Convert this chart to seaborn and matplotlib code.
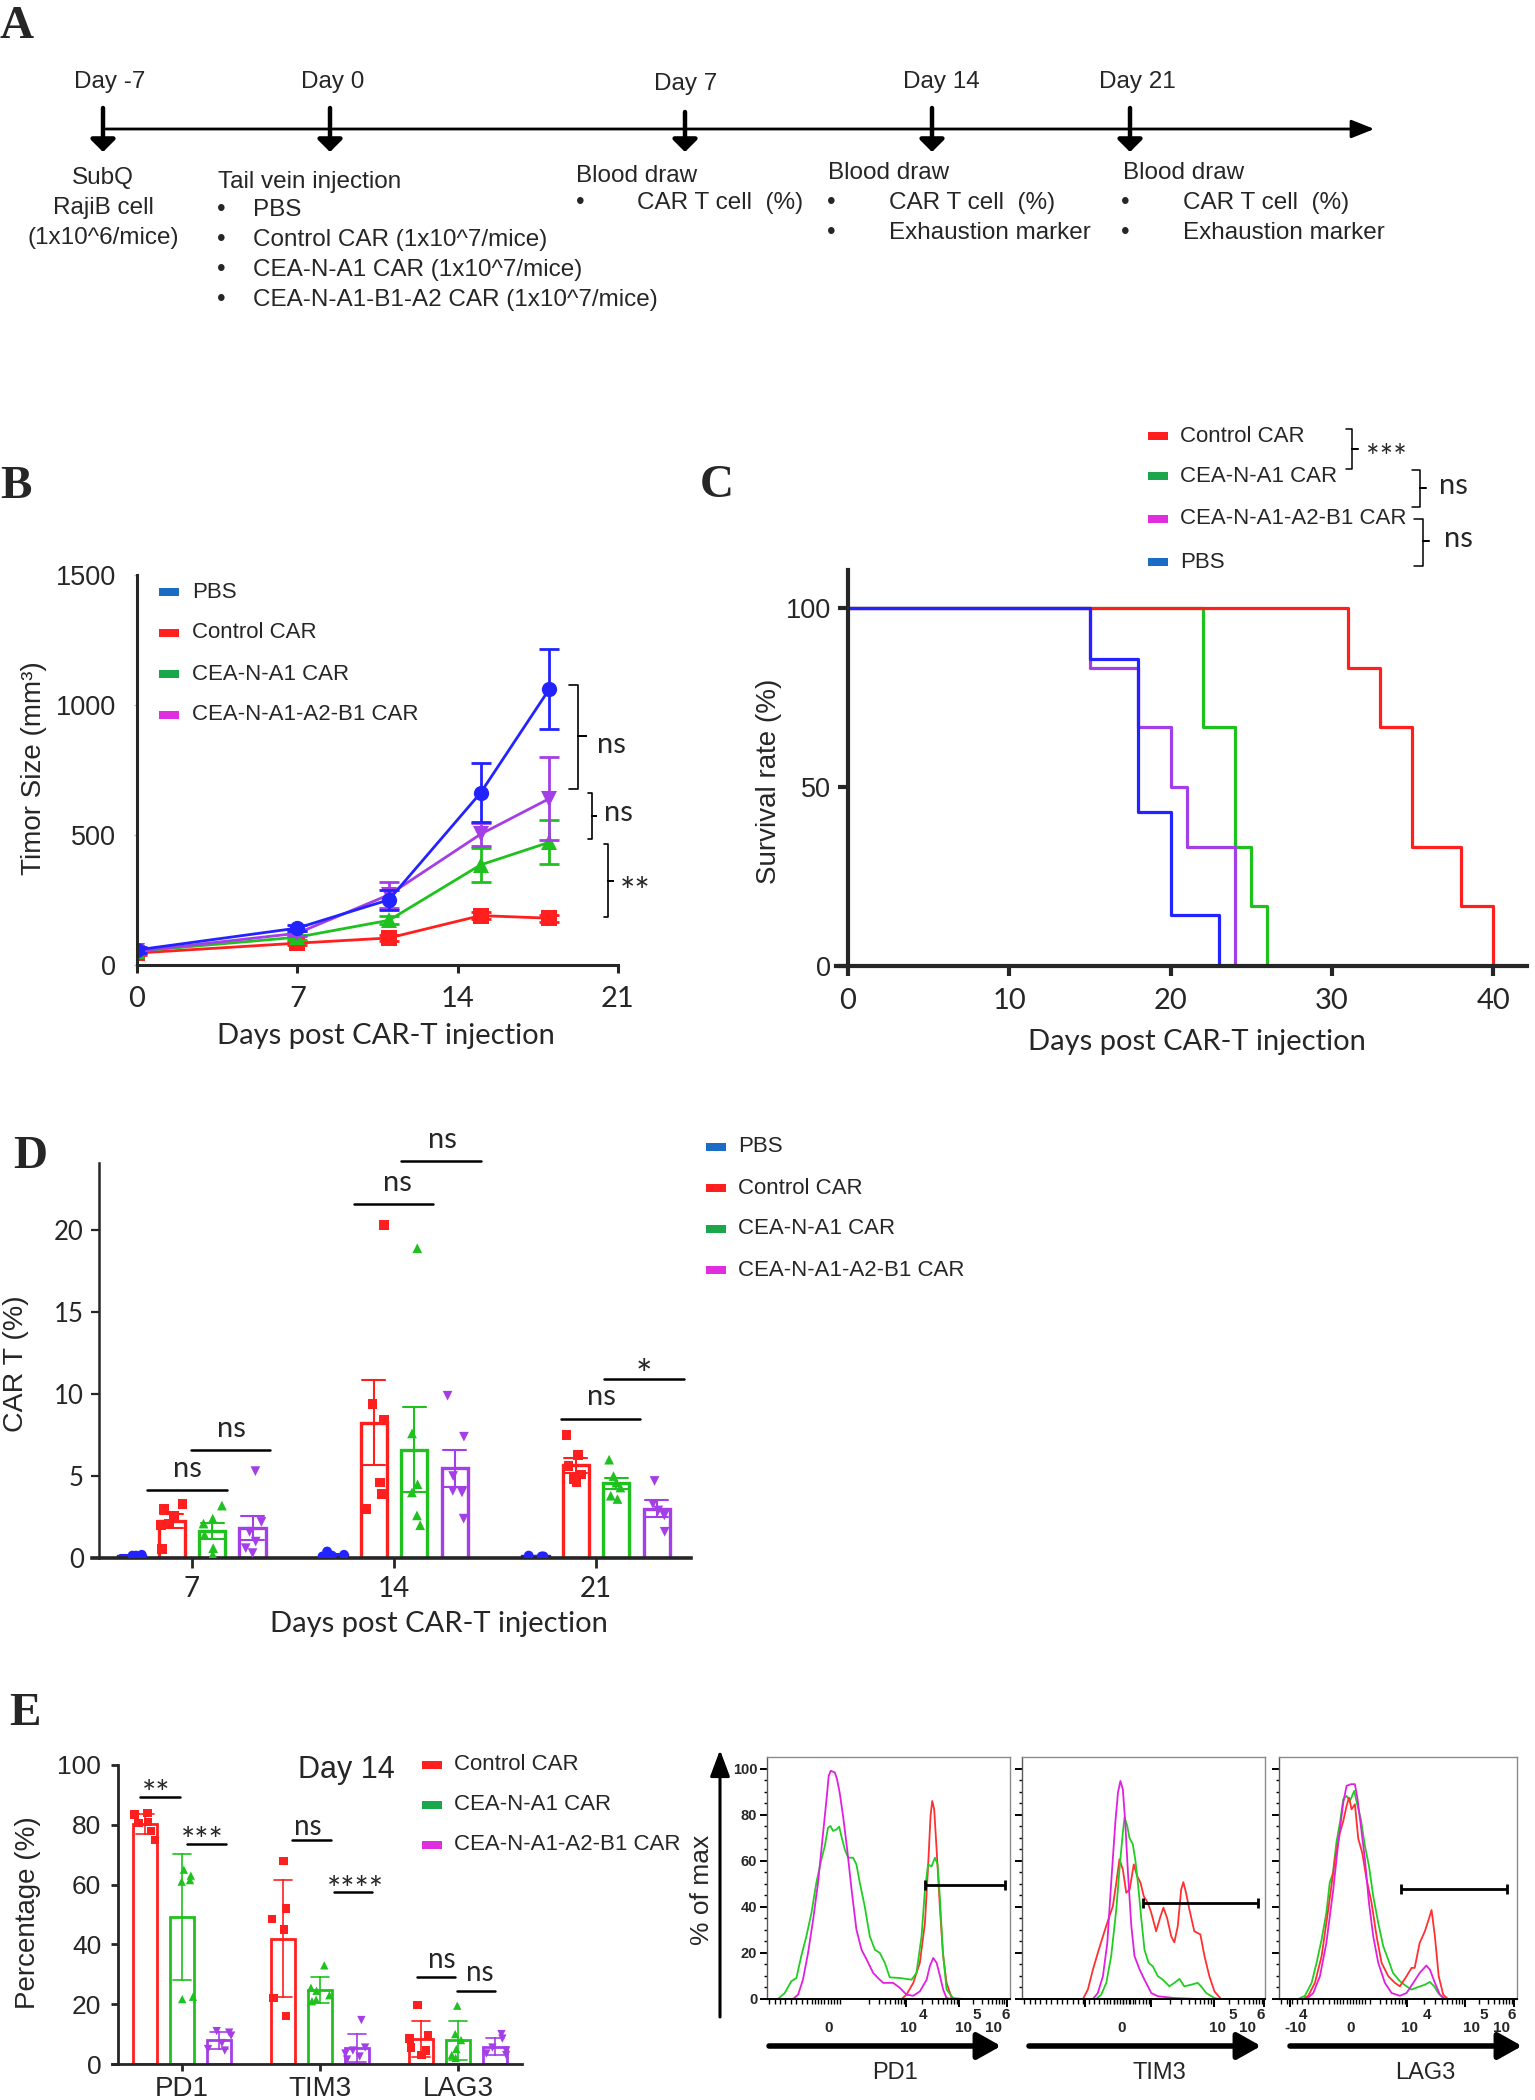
import numpy as np
import pandas as pd
import matplotlib
matplotlib.use("Agg")
import matplotlib.pyplot as plt
from matplotlib.patches import Rectangle
import seaborn as sns

# ---------------- data ----------------
GROUPS = ['PBS', 'Control CAR', 'CEA-N-A1 CAR', 'CEA-N-A1-A2-B1 CAR']

# A: timeline text
A_DAYS = ['Day -7', 'Day 0', 'Day 7', 'Day 14', 'Day 21']
A_SUBQ = ['SubQ', 'RajiB cell', '(1x10^6/mice)']
A_INJ = ['PBS', 'Control CAR (1x10^7/mice)', 'CEA-N-A1 CAR (1x10^7/mice)',
         'CEA-N-A1-B1-A2 CAR (1x10^7/mice)']

# B: tumour size, mean +- sem
B_DAYS = [0, 7, 11, 15, 18]
B_PBS = [58, 142, 251, 662, 1061]
B_PBS_SEM = [10, 12, 38, 113, 155]
B_CTRL = [46, 84, 104, 190, 180]
B_CTRL_SEM = [6, 8, 10, 14, 14]
B_A1 = [53, 107, 172, 385, 472]
B_A1_SEM = [6, 9, 15, 65, 85]
B_A2B1 = [53, 122, 270, 503, 640]
B_A2B1_SEM = [6, 10, 50, 45, 160]

# C: survival, step times and % alive
C_CTRL_T = [0, 31, 33, 35, 38, 40]
C_CTRL_S = [100, 83.3, 66.7, 33.3, 16.7, 0]
C_A1_T = [0, 22, 24, 25, 26]
C_A1_S = [100, 66.7, 33.3, 16.7, 0]
C_A2B1_T = [0, 15, 18, 20, 21, 24]
C_A2B1_S = [100, 83.3, 66.7, 50, 33.3, 0]
C_PBS_T = [0, 15, 18, 20, 23]
C_PBS_S = [100, 85.7, 42.9, 14.3, 0]

# D: CAR T (%) per mouse
D_DAYS = ['7', '14', '21']
D_PBS = [[0.2, 0.15, 0.1, 0.15, 0.1], [0.4, 0.2, 0.1, 0.1, 0.15], [0.1, 0.15, 0.1]]
D_CTRL = [[3.3, 3.0, 2.6, 2.0, 2.1, 0.55], [20.3, 9.4, 8.4, 4.6, 3.9, 3.0],
          [7.5, 6.3, 5.6, 5.1, 4.8, 4.6]]
D_A1 = [[3.2, 2.4, 2.1, 1.4, 0.6, 0.2], [18.9, 7.6, 4.5, 4.0, 2.6, 2.0],
        [6.0, 5.0, 4.6, 4.3, 3.8, 3.6]]
D_A2B1 = [[5.3, 2.2, 1.6, 1.0, 0.6, 0.3], [9.9, 7.4, 5.0, 4.0, 4.1, 2.4],
          [4.7, 3.3, 2.9, 2.6, 1.6]]

# E: exhaustion markers at day 14 (%)
E_MARKERS = ['PD1', 'TIM3', 'LAG3']
E_CTRL = [[84, 83.5, 81, 80.5, 78, 75], [68, 52, 48.5, 45, 22, 16],
          [19.8, 9.5, 8.5, 5.5, 4.5, 3]]
E_A1 = [[65, 63, 61, 61.5, 21.7, 22.5], [33, 25.5, 24.5, 23, 21.5, 21],
        [19.5, 10, 8, 5, 3, 2]]
E_A2B1 = [[11, 10.5, 9.5, 7, 5, 4.5], [14.7, 5.5, 4.5, 3.5, 2.5, 1.5],
          [10, 8.5, 5.5, 4.5, 3.5, 3]]

# E right: flow histograms (% of max vs display channel 0-100)
PD1_MAG_X = [10.7, 12.8, 14.8, 16.9, 19.0, 21.0, 23.1, 24.5, 25.4, 26.2, 27.9, 28.8, 29.9, 31.3,
             33.0, 34.8, 36.8, 38.9, 41.0, 43.7, 45.7, 47.8, 51.9, 54.7, 57.4, 60.2, 62.9, 65.7,
             67.0, 68.4, 69.8, 71.2, 72.5, 73.9, 76.0]
PD1_MAG_Y = [0, 1.9, 8.4, 20, 34.5, 50.4, 72.2, 86.7, 96.8, 99, 98.3, 95.4, 89.6, 79.4,
             64.9, 47.5, 30.1, 21.4, 17.1, 11.3, 9.1, 7.0, 7.0, 4.8, 1.9, 1.4, 3.3, 8.4,
             14.2, 17.8, 15.7, 9.9, 4.1, 0.4, 0]
PD1_GRN_X = [4.5, 7.3, 10.0, 12.1, 14.1, 16.2, 18.3, 20.3, 22.4, 23.8, 25.1, 26.1, 27.2, 28.6,
             29.7, 30.6, 32.0, 33.4, 35.4, 36.8, 38.2, 40.2, 42.3, 44.4, 46.4, 48.5, 50.5, 54.7,
             59.5, 61.5, 63.6, 65.0, 66.3, 67.7, 69.1, 70.2, 71.2, 72.3, 73.9, 76.6, 80.8]
PD1_GRN_Y = [0, 2.6, 7.7, 9.1, 18.6, 27.2, 37.4, 50.4, 60.6, 66.4, 74.3, 75.1, 72.9, 73.6,
             74.8, 70.7, 64.9, 61.3, 61.3, 58.4, 50.4, 40.3, 27.2, 21.4, 20, 15.7, 9.4, 9.1,
             8.4, 11.3, 27.2, 47.5, 58.4, 57.5, 61.3, 58.4, 43.2, 21.4, 4.1, 0.4, 0]
PD1_RED_X = [55.4, 57.4, 60.2, 62.9, 65.0, 66.3, 67.3, 68.0, 68.8, 69.8, 71.2, 72.5, 73.9, 76.0, 78.0]
PD1_RED_Y = [0, 1.9, 7, 15.7, 33, 57.7, 79.4, 85.9, 82.3, 64.9, 38.8, 18.6, 7, 0.4, 0]

TIM3_MAG_X = [29.2, 31.2, 33.3, 35.1, 36.7, 38.4, 39.5, 40.5, 41.5, 42.5, 43.6, 45.0, 46.3,
              48.4, 50.4, 53.2, 55.9, 62.7, 72.3]
TIM3_MAG_Y = [0, 2.6, 9.9, 24.3, 50.4, 76.5, 89.6, 94.6, 91, 76.5, 54.8, 31.6, 18.6,
              12.8, 8.4, 2.6, 1.2, 0.4, 0]
TIM3_GRN_X = [30.5, 32.6, 34.7, 36.7, 38.8, 40.1, 41.5, 42.2, 43.3, 44.2, 45.6, 46.6, 47.7,
              49.0, 50.4, 52.1, 53.8, 55.9, 57.9, 60.7, 62.7, 64.8, 66.8, 69.6, 72.3, 73.7,
              75.8, 79.2, 81.2]
TIM3_GRN_Y = [0, 1.9, 7, 18.6, 38.8, 56.2, 72.2, 78.7, 75.1, 70, 67.1, 60.6, 50.4,
              35.9, 21.4, 15.7, 14.2, 9.9, 8.4, 5.5, 7, 8.7, 5.5, 6.2, 7, 5.5,
              2.6, 0.4, 0]
TIM3_RED_X = [0, 25.1, 27.1, 29.2, 31.2, 33.3, 35.3, 37.4, 38.8, 40.1, 41.5, 42.9, 44.3, 46.0,
              47.4, 48.8, 50.1, 51.8, 53.2, 55.2, 57.0, 58.2, 59.7, 61.4, 62.7, 64.1, 65.5,
              66.4, 67.5, 68.9, 70.9, 73.4, 75.1, 77.1, 79.2, 81.9]
TIM3_RED_Y = [0, 0, 4.1, 12.8, 20, 27.2, 33.8, 40.3, 50.4, 60.6, 56.2, 46.1, 47.5, 58.4,
              53.3, 50.4, 44.6, 41.7, 37.4, 29.4, 35.9, 39.6, 35.2, 27.2, 24.6, 31.6, 47.5,
              50.7, 46.1, 38.8, 29.4, 28, 18.6, 9.9, 3.3, 0]

LAG3_GRN_X = [8.1, 10.9, 13.7, 15.8, 17.9, 19.9, 21.3, 22.7, 24.1, 25.6, 27.0, 28.4, 29.8,
              31.6, 33.0, 34.4, 36.1, 37.8, 39.6, 41.7, 43.8, 45.9, 47.9, 50.8, 53.6, 55.7,
              58.5, 61.3, 63.4, 65.2, 66.9, 69.0, 71.0]
LAG3_GRN_Y = [0, 1.4, 7, 15.7, 25.8, 37.4, 50.4, 54.8, 67.8, 76.5, 86.7, 88.1, 85.9,
              90.3, 83.8, 78, 66.4, 57.7, 44.6, 33, 22.9, 17.1, 11.3, 7.7, 5.5, 4.1,
              5.2, 6.2, 7.4, 5.5, 2.6, 0.4, 0]
LAG3_RED_X = [10.2, 12.3, 15.1, 17.9, 20.7, 23.5, 25.6, 27.0, 28.4, 29.4, 30.5, 31.9, 33.3,
              35.0, 36.8, 38.9, 41.0, 43.1, 45.9, 48.7, 50.8, 53.6, 55.7, 57.0, 59.1, 61.3,
              62.9, 64.1, 65.5, 67.1, 69.0, 71.0]
LAG3_RED_Y = [0, 1.4, 7, 18.6, 38.8, 60.6, 72.2, 77.2, 83.8, 87.4, 82.3, 84.5, 69.6,
              63.3, 51.9, 41.7, 27.2, 15.7, 9.9, 7, 5.5, 9.9, 13.5, 13.5, 24.3, 29.4,
              34.5, 38.6, 27.2, 9.9, 1.9, 0]
LAG3_MAG_X = [11.6, 14.4, 17.2, 19.9, 22.8, 24.9, 27.0, 28.4, 30.2, 31.9, 33.0, 34.4, 36.1,
              37.8, 39.6, 41.7, 44.5, 47.3, 50.8, 53.6, 56.4, 59.1, 61.9, 63.4, 65.5, 67.6, 69.7]
LAG3_MAG_Y = [0, 2.6, 9.9, 24.3, 47.5, 67.8, 85.2, 92.5, 93.2, 93.2, 86.7, 75.1, 60.6,
              41.7, 27.2, 15.7, 7, 2.6, 1.4, 2.6, 7, 11.3, 14.5, 12.8, 7, 1.9, 0]

GATE_X0 = [65.2, 49.7, 51.2]
GATE_X1 = [97.9, 97.0, 95.9]
GATE_Y = [49.6, 41.7, 47.8]

# ---------------- style ----------------
W, H = 1535, 2100
ARIAL = ['Liberation Sans', 'DejaVu Sans']
CALI = ['Lato', 'DejaVu Sans']
SERIF = ['Liberation Serif', 'DejaVu Serif']
NARROW = ['Liberation Sans Narrow', 'Liberation Sans', 'DejaVu Sans']

RED, GREEN, PURPLE, BLUE = '#ff1f1f', '#1fc11f', '#a43ee6', '#2323ff'
PAL = {'PBS': BLUE, 'Control CAR': RED, 'CEA-N-A1 CAR': GREEN, 'CEA-N-A1-A2-B1 CAR': PURPLE}
LEG = {'PBS': '#1a6cc4', 'Control CAR': '#ff1f1f', 'CEA-N-A1 CAR': '#1aa64a',
       'CEA-N-A1-A2-B1 CAR': '#e02de0'}
MARK = {'PBS': 'o', 'Control CAR': 's', 'CEA-N-A1 CAR': '^', 'CEA-N-A1-A2-B1 CAR': 'v'}
H_RED, H_GRN, H_MAG = '#ff3030', '#22cc22', '#e020e0'

sns.set_style('ticks')
plt.rcParams['font.family'] = ARIAL
np.random.seed(4)


def box(l, t, r, b):
    return [l / W, 1 - b / H, (r - l) / W, (b - t) / H]


def stars(ax, x, y, txt, fs, **kw):
    # asterisks sit high in the glyph box, so anchor them on the baseline
    ax.text(x, y, txt, fontsize=fs, family=CALI, ha='center', va='baseline', **kw)


fig = plt.figure(figsize=(W / 100, H / 100), dpi=100)

# ---------------- B ----------------
ax = fig.add_axes(box(137, 575, 618, 965))
for vals, sem, g in [(B_CTRL, B_CTRL_SEM, 'Control CAR'), (B_A1, B_A1_SEM, 'CEA-N-A1 CAR'),
                     (B_A2B1, B_A2B1_SEM, 'CEA-N-A1-A2-B1 CAR'), (B_PBS, B_PBS_SEM, 'PBS')]:
    sns.lineplot(x=B_DAYS, y=vals, color=PAL[g], marker=MARK[g], markersize=11,
                 markeredgewidth=0, linewidth=2, ax=ax)
    ax.errorbar(B_DAYS, vals, yerr=sem, fmt='none', ecolor=PAL[g], elinewidth=2,
                capsize=7, capthick=2)
ax.set_xlim(0, 21)
ax.set_ylim(0, 1500)
ax.set_xticks([0, 7, 14, 21])
ax.set_yticks([0, 500, 1000, 1500])
sns.despine(ax=ax)
ax.spines[['left', 'bottom']].set_linewidth(2.2)
ax.tick_params(axis='x', length=6, width=2.2, pad=9, labelsize=21, labelfontfamily=CALI)
ax.tick_params(axis='y', length=2, width=1, color='0.75', pad=13, labelsize=19.5)
ax.set_xlabel('Days post CAR-T injection', fontsize=21, family=CALI, va='center')
ax.xaxis.set_label_coords(0.518, -0.182)
ax.set_ylabel('Timor Size (mm³)', fontsize=20, va='center')
ax.yaxis.set_label_coords(-0.214, 0.505)
# brackets
for pts in [[(18.85, 1077), (19.25, 1077), (19.25, 879), (19.6, 879), (19.25, 879), (19.25, 678), (18.85, 678)],
            [(19.68, 662), (19.86, 662), (19.86, 574), (20.04, 574), (19.86, 574), (19.86, 484), (19.68, 484)],
            [(20.41, 464), (20.56, 464), (20.56, 324), (20.78, 324), (20.56, 324), (20.56, 183), (20.41, 183)]]:
    ax.plot([p[0] for p in pts], [p[1] for p in pts], color='black', lw=1.2, clip_on=False)
ax.text(20.7, 845, 'ns', fontsize=21, family=CALI, ha='center', va='center')
ax.text(21.0, 586, 'ns', fontsize=21, family=CALI, ha='center', va='center')
stars(ax, 21.75, 235, '**', 26)

# ---------------- C ----------------
ax = fig.add_axes(box(836, 570, 1527, 966))
for t, s, g in [(C_A1_T, C_A1_S, 'CEA-N-A1 CAR'), (C_A2B1_T, C_A2B1_S, 'CEA-N-A1-A2-B1 CAR'),
                (C_CTRL_T, C_CTRL_S, 'Control CAR'), (C_PBS_T, C_PBS_S, 'PBS')]:
    sns.lineplot(x=t, y=s, color=PAL[g], drawstyle='steps-post', linewidth=2.3,
                 estimator=None, sort=False, ax=ax)
ax.set_xlim(-0.74, 42.1)
ax.set_ylim(0, 110.6)
ax.spines['left'].set_position(('data', 0))
ax.set_xticks([0, 10, 20, 30, 40])
ax.set_yticks([0, 50, 100])
sns.despine(ax=ax)
ax.spines[['left', 'bottom']].set_linewidth(3)
ax.tick_params(axis='x', length=7, width=3, pad=9, labelsize=21, labelfontfamily=CALI)
ax.tick_params(axis='y', length=7, width=3, pad=5, labelsize=19.5)
ax.set_xlabel('Days post CAR-T injection', fontsize=21, family=CALI, va='center')
ax.xaxis.set_label_coords(0.522, -0.192)
ax.set_ylabel('Survival rate (%)', fontsize=20, va='center')
ax.yaxis.set_label_coords(-0.097, 0.467)


def color_errorbars(ax):
    # give each error bar the edge colour of the bar it belongs to
    bars = [(p.get_x() + p.get_width() / 2, p.get_edgecolor()) for p in ax.patches]
    for ln in ax.lines:
        xm = np.nanmean(np.asarray(ln.get_xdata(), dtype=float))
        ln.set_color(min(bars, key=lambda b: abs(b[0] - xm))[1])


# ---------------- D ----------------
rows = []
for g, per_day in zip(GROUPS, [D_PBS, D_CTRL, D_A1, D_A2B1]):
    for day, vals in zip(D_DAYS, per_day):
        rows += [(day, g, v) for v in vals]
d_df = pd.DataFrame(rows, columns=['day', 'group', 'val'])

ax = fig.add_axes(box(92, 1163, 691, 1558))
sns.barplot(data=d_df, x='day', y='val', hue='group', order=D_DAYS, hue_order=GROUPS,
            palette=PAL, fill=False, errorbar='se', capsize=0.45, gap=0.35, dodge=True,
            linewidth=2.4, err_kws={'linewidth': 1.5}, legend=False, ax=ax)
color_errorbars(ax)
for g in GROUPS:
    sns.stripplot(data=d_df[d_df.group == g], x='day', y='val', hue='group', order=D_DAYS,
                  hue_order=GROUPS, palette=PAL, dodge=True, jitter=0.22, marker=MARK[g],
                  size=7, legend=False, ax=ax)
ax.set_xlim(-0.495, 2.47)
ax.set_ylim(0, 24.1)
ax.spines['left'].set_position(('data', -0.46))
ax.set_yticks([0, 5, 10, 15, 20])
sns.despine(ax=ax)
ax.spines['bottom'].set_linewidth(2.6)
ax.spines['left'].set_linewidth(1.8)
ax.tick_params(axis='x', length=7, width=2, pad=6, labelsize=20, labelfontfamily=CALI)
ax.tick_params(axis='y', length=6, width=1.6, pad=5, labelsize=18.5, labelfontfamily=CALI)
ax.set_xlabel('Days post CAR-T injection', fontsize=21, family=CALI, va='center')
ax.xaxis.set_label_coords(0.579, -0.167)
ax.set_ylabel('CAR T (%)', fontsize=20.5, va='center')
ax.yaxis.set_label_coords(-0.127, 0.491)
for x0, x1, y, txt, tx, ty in [(-0.222, 0.175, 4.15, 'ns', -0.022, 5.4),
                               (-0.006, 0.387, 6.56, 'ns', 0.197, 7.85),
                               (0.80, 1.194, 21.6, 'ns', 1.016, 22.9),
                               (1.035, 1.429, 24.2, 'ns', 1.238, 25.5),
                               (1.825, 2.216, 8.5, 'ns', 2.025, 9.8)]:
    ax.plot([x0, x1], [y, y], color='black', lw=1.8, clip_on=False)
    ax.text(tx, ty, txt, fontsize=21, family=CALI, ha='center', va='center')
ax.plot([2.041, 2.435], [10.9, 10.9], color='black', lw=1.8, clip_on=False)
stars(ax, 2.238, 10.4, '*', 28)

# ---------------- E left ----------------
rows = []
for g, per_mk in zip(GROUPS[1:], [E_CTRL, E_A1, E_A2B1]):
    for mk, vals in zip(E_MARKERS, per_mk):
        rows += [(mk, g, v) for v in vals]
e_df = pd.DataFrame(rows, columns=['marker', 'group', 'val'])

ax = fig.add_axes(box(112, 1765, 522, 2064))
sns.barplot(data=e_df, x='marker', y='val', hue='group', order=E_MARKERS,
            hue_order=GROUPS[1:], palette=PAL, fill=False, errorbar='sd', capsize=0.4,
            gap=0.35, dodge=True, linewidth=2, err_kws={'linewidth': 1.2}, legend=False, ax=ax)
color_errorbars(ax)
for g in GROUPS[1:]:
    sns.stripplot(data=e_df[e_df.group == g], x='marker', y='val', hue='group',
                  order=E_MARKERS, hue_order=GROUPS[1:], palette=PAL, dodge=True,
                  jitter=0.28, marker=MARK[g], size=6, legend=False, ax=ax)
ax.set_xlim(-0.507, 2.464)
ax.set_ylim(0, 100)
ax.spines['left'].set_position(('data', -0.464))
ax.set_yticks([0, 20, 40, 60, 80, 100])
sns.despine(ax=ax)
ax.spines[['left', 'bottom']].set_linewidth(2)
ax.tick_params(axis='x', length=5, width=2, pad=4, labelsize=20)
ax.tick_params(axis='y', length=5, width=2, pad=7, labelsize=19)
ax.set_xlabel('')
ax.set_ylabel('Percentage (%)', fontsize=20, va='center')
ax.yaxis.set_label_coords(-0.206, 0.505)
for x0, x1, y in [(-0.304, -0.014, 89.4), (0.035, 0.32, 73.5), (0.80, 1.08, 75.0),
                  (1.10, 1.38, 57.5), (1.70, 1.98, 29.0), (1.99, 2.27, 24.3)]:
    ax.plot([x0, x1], [y, y], color='black', lw=1.8, clip_on=False)
for tx, ty, txt in [(0.915, 79.4, 'ns'), (1.88, 34.9, 'ns'), (2.155, 30.4, 'ns')]:
    ax.text(tx, ty, txt, fontsize=20, family=CALI, ha='center', va='center')
for tx, ty, txt in [(-0.19, 86.8, '**'), (0.145, 71.2, '***'), (1.257, 55.0, '****')]:
    stars(ax, tx, ty, txt, 24)

# ---------------- E right: histograms ----------------
HISTS = [
    (box(767, 1757, 1010, 1999), [(PD1_RED_X, PD1_RED_Y, H_RED), (PD1_GRN_X, PD1_GRN_Y, H_GRN),
                                  (PD1_MAG_X, PD1_MAG_Y, H_MAG)]),
    (box(1022, 1757, 1265, 1999), [(TIM3_RED_X, TIM3_RED_Y, H_RED), (TIM3_GRN_X, TIM3_GRN_Y, H_GRN),
                                   (TIM3_MAG_X, TIM3_MAG_Y, H_MAG)]),
    (box(1279, 1757, 1517, 1999), [(LAG3_GRN_X, LAG3_GRN_Y, H_GRN), (LAG3_RED_X, LAG3_RED_Y, H_RED),
                                   (LAG3_MAG_X, LAG3_MAG_Y, H_MAG)]),
]
H_MAJOR = [[57.4, 79.0, 98.6], [25.8, 53.2, 78.9, 99.7], [4.6, 53.8, 78.0, 98.7]]
H_ZERO = [25.4, 40.8, 30.2]
H_LABELS = [
    [('0', 25.4, 0), ('10', 58.4, 0), ('4', 64.2, 1), ('10', 80.8, 0), ('5', 86.5, 1), ('10', 93.1, 0), ('6', 98.2, 1)],
    [('0', 40.8, 0), ('10', 80.5, 0), ('5', 86.7, 1), ('10', 92.9, 0), ('6', 98.4, 1)],
    [('-10', 6.7, 0), ('4', 10.2, 1), ('0', 30.2, 0), ('10', 55.0, 0), ('4', 62.0, 1),
     ('10', 80.8, 0), ('5', 86.2, 1), ('10', 93.4, 0), ('6', 97.9, 1)],
]
for i, (rect, curves) in enumerate(HISTS):
    ax = fig.add_axes(rect)
    for xs, ys, c in curves:
        sns.lineplot(x=xs, y=ys, color=c, linewidth=1.3, estimator=None, sort=False, ax=ax)
    ax.hlines(GATE_Y[i], GATE_X0[i], GATE_X1[i], color='black', lw=2)
    ax.vlines([GATE_X0[i], GATE_X1[i]], GATE_Y[i] - 2.2, GATE_Y[i] + 2.2, color='black', lw=2)
    ax.set_xlim(0, 100)
    ax.set_ylim(0, 105)
    maj = H_MAJOR[i]
    minors = []
    for a, b in zip([maj[-3] - 22] + maj[-3:-1], maj[-3:]):
        minors += [a + (b - a) * np.log10(k) for k in range(2, 10)]
    z = H_ZERO[i]
    minors += list(np.arange(z - 7, z + 6, 1.3)) + list(np.arange(1, z - 8, 2.2))
    minors = [m for m in minors if 0 < m < 100]
    ax.set_xticks(maj)
    ax.set_xticks(minors, minor=True)
    ax.set_xticklabels([])
    ax.set_yticks(range(0, 101, 20))
    ax.set_yticks(range(0, 101, 5), minor=True)
    ax.tick_params(axis='x', which='major', length=6, width=1.4, color='black')
    ax.tick_params(axis='x', which='minor', length=3.5, width=1, color='black')
    ax.tick_params(axis='y', which='major', length=5, width=1.4, color='black', pad=2,
                   labelsize=10.5)
    ax.tick_params(axis='y', which='minor', length=2.5, width=1, color='black')
    if i == 0:
        for lab in ax.get_yticklabels():
            lab.set_fontweight('bold')
            lab.set_fontfamily(NARROW)
    else:
        ax.set_yticklabels([])
    for sp in ['top', 'right']:
        ax.spines[sp].set_color('0.55')
        ax.spines[sp].set_linewidth(1)
    ax.spines['left'].set_color('0.35')
    ax.spines['left'].set_linewidth(1)
    ax.spines['bottom'].set_color('black')
    ax.spines['bottom'].set_linewidth(1.4)
    trans = ax.get_xaxis_transform()
    for txt, xv, sup in H_LABELS[i]:
        ax.text(xv, -0.068 if sup else -0.118, txt, transform=trans, ha='center', va='center',
                fontsize=11, fontweight='bold', family=NARROW)

# ---------------- overlay (pixel coordinates) ----------------
ov = fig.add_axes([0, 0, 1, 1], zorder=20)
ov.set_xlim(0, W)
ov.set_ylim(H, 0)
ov.axis('off')
ov.patch.set_alpha(0)

# panel letters
for lab, x, y in [('A', 0, 27), ('B', 0, 487), ('C', 700, 486), ('D', 13, 1157), ('E', 9, 1714)]:
    ov.text(x, y, lab, fontsize=34, fontweight='bold', family=SERIF, ha='left', va='center')

# A: timeline
FS_A = 17.5
ov.annotate('', xy=(1377, 129), xytext=(103, 129),
            arrowprops=dict(arrowstyle='-|>,head_length=0.7,head_width=0.28', lw=2,
                            color='black', mutation_scale=20))
for x, y0 in zip([103, 330, 685, 932, 1130], [108, 108, 112, 108, 108]):
    ov.annotate('', xy=(x, 152), xytext=(x, y0),
                arrowprops=dict(arrowstyle='-|>,head_length=0.3,head_width=0.3', lw=3.2,
                                color='black', mutation_scale=25, shrinkA=0, shrinkB=0))
for txt, x, y in zip(A_DAYS, [110, 333, 686, 941, 1137], [82, 82, 84, 82, 82]):
    ov.text(x, y, txt, fontsize=FS_A, ha='center', va='center')
for txt, y in zip(A_SUBQ, [178, 208, 238]):
    ov.text(103, y, txt, fontsize=FS_A, ha='center', va='center')
ov.text(218, 182, 'Tail vein injection', fontsize=FS_A, ha='left', va='center')
for txt, y in zip(A_INJ, [210, 240, 270, 300]):
    ov.text(221, y, '•', fontsize=FS_A, ha='center', va='center')
    ov.text(253, y, txt, fontsize=FS_A, ha='left', va='center')
for xb, xbul, xt, yb, items in [(576, 580, 637, 176, ['CAR T cell  (%)']),
                                (828, 831, 889, 173, ['CAR T cell  (%)', 'Exhaustion marker']),
                                (1123, 1125, 1183, 173, ['CAR T cell  (%)', 'Exhaustion marker'])]:
    ov.text(xb, yb, 'Blood draw', fontsize=FS_A, ha='left', va='center')
    for k, txt in enumerate(items):
        y = 203 + 30 * k
        ov.text(xbul, y, '•', fontsize=FS_A, ha='center', va='center')
        ov.text(xt, y, txt, fontsize=FS_A, ha='left', va='center')


def legend(xp, xt, ys, groups, fs=16):
    for y, g in zip(ys, groups):
        ov.add_patch(Rectangle((xp, y - 4), 20, 8, color=LEG[g], lw=0))
        ov.text(xt, y, g, fontsize=fs, ha='left', va='center')


legend(159, 192, [592, 633, 674, 715], GROUPS)
legend(1148, 1180, [436, 476, 519, 562], ['Control CAR', 'CEA-N-A1 CAR', 'CEA-N-A1-A2-B1 CAR', 'PBS'])
legend(706, 738, [1147, 1188, 1229, 1270], GROUPS)
legend(422, 454, [1765, 1805, 1845], GROUPS[1:])
ov.text(346, 1770, 'Day 14', fontsize=22, ha='center', va='center')

# C brackets
for xs, ys in [([1346, 1352, 1352, 1358, 1352, 1352, 1346], [429, 429, 449, 449, 449, 469, 469]),
               ([1412, 1420, 1420, 1426, 1420, 1420, 1412], [470, 470, 488, 488, 488, 507, 507]),
               ([1414, 1423, 1423, 1429, 1423, 1423, 1414], [519, 519, 541, 541, 541, 566, 566])]:
    ov.plot(xs, ys, color='black', lw=1.1)
stars(ov, 1386, 468, '***', 23)
ov.text(1453, 486, 'ns', fontsize=21, family=CALI, ha='center', va='center')
ov.text(1458, 539, 'ns', fontsize=21, family=CALI, ha='center', va='center')

# histogram axes arrows and labels
ov.annotate('', xy=(720, 1750), xytext=(720, 2017),
            arrowprops=dict(arrowstyle='-|>,head_length=0.8,head_width=0.3', lw=2.2,
                            color='black', mutation_scale=20, shrinkA=0, shrinkB=0))
ov.text(702, 1890, '% of max', fontsize=19, rotation=90, ha='center', va='center')
for x0, x1, lab, xl in [(769, 1001, 'PD1', 895), (1029, 1261, 'TIM3', 1159), (1290, 1522, 'LAG3', 1425)]:
    ov.annotate('', xy=(x1, 2046), xytext=(x0, 2046),
                arrowprops=dict(arrowstyle='-|>,head_length=0.8,head_width=0.45', lw=4,
                                color='black', mutation_scale=18, shrinkA=0, shrinkB=0))
    ov.text(xl, 2073, lab, fontsize=17, ha='center', va='center')

fig.savefig('out.png', dpi=100)
